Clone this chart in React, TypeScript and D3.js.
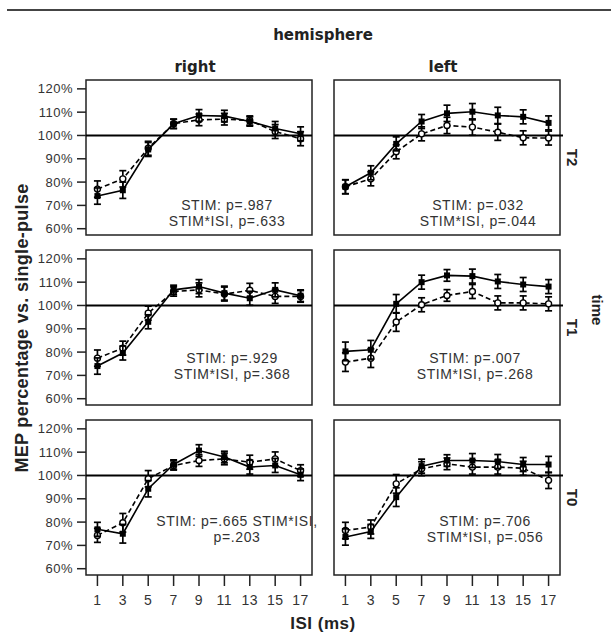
import React from "react";
import * as d3 from "d3";

// ISI levels (ms)
const isi = [1, 3, 5, 7, 9, 11, 13, 15, 17];
const yTicks = [60, 70, 80, 90, 100, 110, 120];

// filled = solid line, open = dashed line
const rightT2Filled = [74, 76.5, 94, 105, 108.6, 108.3, 106, 103, 100.7];
const rightT2Open = [77, 81.4, 94.5, 105, 106.7, 107, 106.4, 101.7, 98.6];
const rightT2Err = [3.5, 3.5, 3, 2, 2.5, 2.5, 2, 3, 3];

const leftT2Filled = [78, 84, 96.4, 106, 109.5, 110.2, 108.6, 108, 105.4];
const leftT2Open = [78, 81.4, 93, 100.7, 104.3, 103.6, 101.4, 99, 98.9];
const leftT2Err = [3, 3, 3, 3, 3.5, 3.5, 3.5, 3, 3];

const rightT1Filled = [74, 79.6, 93, 106.7, 108.1, 105.3, 103.1, 106.7, 104.2];
const rightT1Open = [77.4, 81.7, 96.7, 106, 106.7, 104.9, 106.5, 103.9, 103.9];
const rightT1Err = [3.5, 3, 3, 2, 3, 3, 3, 3, 2.5];

const leftT1Filled = [80.3, 81, 100.7, 110, 112.9, 112.6, 110.3, 109, 108.1];
const leftT1Open = [75.7, 77.4, 92.9, 100.3, 104.3, 106, 101.1, 101.1, 100.7];
const leftT1Err = [4, 4, 4, 3, 2.5, 3, 3, 3, 3];

const rightT0Filled = [76.9, 75, 94.3, 104.7, 110.7, 107.9, 103.6, 104.3, 100.3];
const rightT0Open = [74.3, 79.7, 98.6, 104.3, 106.4, 107.1, 105.7, 107.1, 102.1];
const rightT0Err = [3, 4, 3.5, 2, 2.5, 2.5, 3, 3, 2.5];

const leftT0Filled = [73.6, 76, 90.7, 104, 106.4, 106.4, 106, 104.7, 104.7];
const leftT0Open = [76.4, 77.9, 96.4, 102.9, 105, 103.6, 103.6, 103.1, 97.9];
const leftT0Err = [3.5, 3, 4, 3, 2.5, 3, 3, 3, 3.5];

const hemispheres = ["right", "left"];
const times = ["T2", "T1", "T0"];

const notes = [
  [["STIM: p=.987", "STIM*ISI, p=.633"], ["STIM: p=.032", "STIM*ISI, p=.044"]],
  [["STIM: p=.929", "STIM*ISI, p=.368"], ["STIM: p=.007", "STIM*ISI, p=.268"]],
  [["STIM: p=.665 STIM*ISI,", "p=.203"], ["STIM: p=.706", "STIM*ISI, p=.056"]],
];

const panelData = [
  [
    { filled: rightT2Filled, open: rightT2Open, err: rightT2Err },
    { filled: leftT2Filled, open: leftT2Open, err: leftT2Err },
  ],
  [
    { filled: rightT1Filled, open: rightT1Open, err: rightT1Err },
    { filled: leftT1Filled, open: leftT1Open, err: leftT1Err },
  ],
  [
    { filled: rightT0Filled, open: rightT0Open, err: rightT0Err },
    { filled: leftT0Filled, open: leftT0Open, err: leftT0Err },
  ],
];

// note anchor inside each panel (centre x, first baseline)
const notePos = [
  [[141, 130], [144, 130]],
  [[146, 113], [141, 113]],
  [[151, 106], [151, 106]],
];

const colX = [86, 334];
const rowY = [80, 250, 420];
const pw = 226;
const ph = 155;

const x = d3.scaleLinear().domain([0.1, 17.9]).range([0, pw]);
const y = d3.scaleLinear().domain([57.3, 123.8]).range([ph, 0]);

const sans = "'Liberation Sans', Arial, sans-serif";
const header = "'DejaVu Sans', Verdana, sans-serif";

const Series = ({ vals, err, dashed }) => {
  const line = d3
    .line<number>()
    .x((d, i) => x(isi[i]))
    .y(d => y(d));
  return (
    <g>
      <path
        d={line(vals) || ""}
        fill="none"
        stroke="#000"
        strokeWidth={1.6}
        strokeDasharray={dashed ? "5,3" : undefined}
      />
      {vals.map((v, i) => (
        <g key={i} stroke="#000" strokeWidth={1.7}>
          <line x1={x(isi[i])} x2={x(isi[i])} y1={y(v - err[i])} y2={y(v + err[i])} />
          <line x1={x(isi[i]) - 3.5} x2={x(isi[i]) + 3.5} y1={y(v - err[i])} y2={y(v - err[i])} />
          <line x1={x(isi[i]) - 3.5} x2={x(isi[i]) + 3.5} y1={y(v + err[i])} y2={y(v + err[i])} />
        </g>
      ))}
      {vals.map((v, i) =>
        dashed ? (
          <circle key={"m" + i} cx={x(isi[i])} cy={y(v)} r={3} fill="#fff" stroke="#000" strokeWidth={1.4} />
        ) : (
          <rect key={"m" + i} x={x(isi[i]) - 3} y={y(v) - 3} width={6} height={6} fill="#000" />
        )
      )}
    </g>
  );
};

const Panel = ({ r, c }) => {
  const d = panelData[r][c];
  const [nx, ny] = notePos[r][c];
  return (
    <g transform={`translate(${colX[c]},${rowY[r]})`}>
      <rect x={0} y={0} width={pw} height={ph} fill="#fff" stroke="#222" strokeWidth={1.5} />
      <line x1={0} x2={c === 1 ? pw + 3 : pw} y1={y(100)} y2={y(100)} stroke="#000" strokeWidth={2} />
      <Series vals={d.open} err={d.err} dashed />
      <Series vals={d.filled} err={d.err} dashed={false} />
      {notes[r][c].map((t, i) => (
        <text
          key={i}
          x={nx}
          y={ny + i * 16}
          textAnchor="middle"
          fontFamily={sans}
          fontSize={14}
          letterSpacing={0.6}
          fill="#333"
        >
          {t}
        </text>
      ))}
      {c === 0 &&
        yTicks.map(t => (
          <g key={t}>
            <line x1={-9} x2={0} y1={y(t)} y2={y(t)} stroke="#222" strokeWidth={1.5} />
            <text x={-13} y={y(t)} dy="0.35em" textAnchor="end" fontFamily={sans} fontSize={13} letterSpacing={0.5} fill="#333">
              {t + "%"}
            </text>
          </g>
        ))}
      {r === 2 &&
        isi.map(t => (
          <g key={t}>
            <line x1={x(t)} x2={x(t)} y1={ph} y2={ph + 11} stroke="#222" strokeWidth={1.5} />
            <text x={x(t)} y={ph + 30} textAnchor="middle" fontFamily={sans} fontSize={14} letterSpacing={0.5} fill="#333">
              {t}
            </text>
          </g>
        ))}
      {c === 1 && (
        <text
          transform={`translate(${pw + 12},${ph / 2}) rotate(90)`}
          textAnchor="middle"
          dy="0.35em"
          fontFamily={sans}
          fontWeight="bold"
          fontSize={15}
          fill="#222"
        >
          {times[r]}
        </text>
      )}
    </g>
  );
};

export default function App() {
  return (
    <svg width={611} height={642} style={{ position: "absolute", left: 0, top: 0, background: "#fff" }}>
      <line x1={7} x2={611} y1={10} y2={10} stroke="#444" strokeWidth={2} />
      <text x={323} y={40} textAnchor="middle" fontFamily={header} fontWeight="bold" fontSize={15} fill="#222">
        hemisphere
      </text>
      {hemispheres.map((h, c) => (
        <text key={h} x={colX[c] + pw / 2 - 4} y={72} textAnchor="middle" fontFamily={header} fontWeight="bold" fontSize={15} fill="#222">
          {h}
        </text>
      ))}
      {rowY.map((_, r) => [0, 1].map(c => <Panel key={r + "-" + c} r={r} c={c} />))}
      <text
        transform="translate(22,328) rotate(-90)"
        textAnchor="middle"
        dy="0.35em"
        fontFamily={sans}
        fontWeight="bold"
        fontSize={18}
        letterSpacing={0.3}
        fill="#222"
      >
        MEP percentage vs. single-pulse
      </text>
      <text x={323} y={629} textAnchor="middle" fontFamily={sans} fontWeight="bold" fontSize={17} letterSpacing={0.5} fill="#222">
        ISI (ms)
      </text>
      <text
        transform="translate(597,310) rotate(90)"
        textAnchor="middle"
        dy="0.35em"
        fontFamily={sans}
        fontWeight="bold"
        fontSize={15}
        fill="#222"
      >
        time
      </text>
    </svg>
  );
}
